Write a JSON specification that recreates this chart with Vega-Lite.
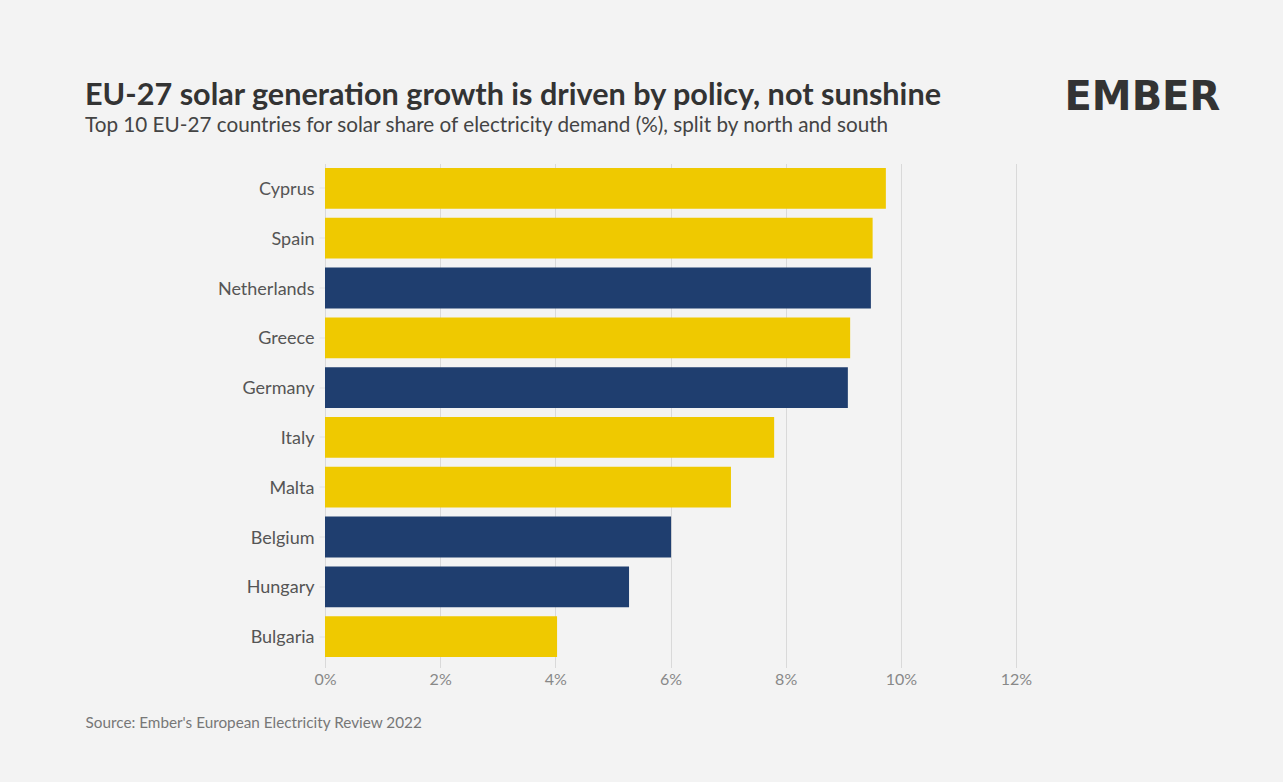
{
  "$schema": "https://vega.github.io/schema/vega-lite/v6.json",
  "width": 691,
  "height": 498,
  "autosize": "none",
  "padding": {"left": 325, "top": 163.5, "right": 267, "bottom": 120.5},
  "background": "#f3f3f3",
  "title": {
    "text": "EU-27 solar generation growth is driven by policy, not sunshine",
    "subtitle": "Top 10 EU-27 countries for solar share of electricity demand (%), split by north and south",
    "anchor": "start",
    "frame": "group",
    "dx": -240,
    "dy": 86,
    "offset": 28,
    "font": "Lato",
    "fontSize": 30.6,
    "fontWeight": "bold",
    "color": "#333333",
    "subtitleFont": "Lato",
    "subtitleFontSize": 20.7,
    "subtitleColor": "#444444",
    "subtitlePadding": 4
  },
  "data": {
    "values": [
      {"country": "Cyprus", "share": 9.74, "region": "south"},
      {"country": "Spain", "share": 9.51, "region": "south"},
      {"country": "Netherlands", "share": 9.48, "region": "north"},
      {"country": "Greece", "share": 9.12, "region": "south"},
      {"country": "Germany", "share": 9.08, "region": "north"},
      {"country": "Italy", "share": 7.8, "region": "south"},
      {"country": "Malta", "share": 7.05, "region": "south"},
      {"country": "Belgium", "share": 6.01, "region": "north"},
      {"country": "Hungary", "share": 5.28, "region": "north"},
      {"country": "Bulgaria", "share": 4.03, "region": "south"}
    ]
  },
  "mark": {"type": "bar"},
  "encoding": {
    "y": {
      "field": "country",
      "type": "nominal",
      "sort": null,
      "scale": {"paddingInner": 0.18, "paddingOuter": 0.09},
      "axis": {
        "title": "EMBER",
        "titleX": 739,
        "titleY": -54,
        "titleAngle": 0,
        "titleAlign": "left",
        "titleBaseline": "alphabetic",
        "titleFont": "DejaVu Sans",
        "titleFontSize": 40,
        "titleFontWeight": "bold",
        "titleColor": "#333333",
        "domain": false,
        "ticks": true,
        "tickColor": "#e3e3e3",
        "tickSize": 6,
        "labelPadding": 5,
        "labelOffset": 1.5,
        "labelFont": "Lato",
        "labelFontSize": 18,
        "labelColor": "#555555",
        "grid": false
      }
    },
    "x": {
      "field": "share",
      "type": "quantitative",
      "scale": {"domain": [0, 12], "nice": false},
      "axis": {
        "values": [0, 2, 4, 6, 8, 10, 12],
        "labelExpr": "datum.value + '%'",
        "labelFlush": false,
        "title": "Source: Ember's European Electricity Review 2022",
        "titleX": -240,
        "titleY": 65.5,
        "titleAlign": "left",
        "titleAnchor": null,
        "titleBaseline": "alphabetic",
        "titleFont": "Lato",
        "titleFontSize": 15.3,
        "titleFontWeight": "normal",
        "titleColor": "#777777",
        "domain": false,
        "grid": true,
        "gridColor": "#d9d9d9",
        "gridWidth": 1,
        "ticks": true,
        "tickColor": "#d9d9d9",
        "tickSize": 6,
        "labelPadding": 4,
        "labelFont": "Lato",
        "labelFontSize": 16,
        "labelColor": "#888888"
      }
    },
    "color": {
      "field": "region",
      "type": "nominal",
      "scale": {"domain": ["north", "south"], "range": ["#1f3e6f", "#efc900"]},
      "legend": null
    }
  },
  "config": {"view": {"stroke": null}}
}
